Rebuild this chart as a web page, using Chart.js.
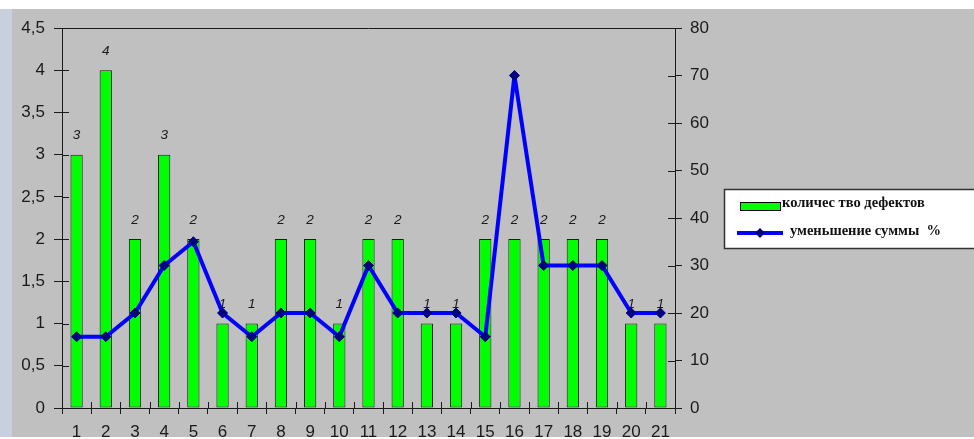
<!DOCTYPE html>
<html>
<head>
<meta charset="utf-8">
<script src="https://cdn.jsdelivr.net/npm/chart.js@4.4.1/dist/chart.umd.min.js"></script>
<style>
html,body{margin:0;padding:0;background:#fff;}
#wrap{position:relative;width:974px;height:439px;}
</style>
</head>
<body>
<div id="wrap"><canvas id="c" width="974" height="439"></canvas></div>
<script>
const categories = ['1','2','3','4','5','6','7','8','9','10','11','12','13','14','15','16','17','18','19','20','21'];
const defectCounts = [3,4,2,3,2,1,1,2,2,1,2,2,1,1,2,2,2,2,2,1,1];
const sumReductionPct = [15,15,20,30,35,20,15,20,20,15,30,20,20,20,15,70,30,30,30,20,20];
const leftTickLabels = ['0','0,5','1','1,5','2','2,5','3','3,5','4','4,5'];
const rightTickLabels = ['0','10','20','30','40','50','60','70','80'];
const seriesNames = ['количес тво дефектов', 'уменьшение суммы  %'];

const bgPlugin = {
  id: 'bg',
  beforeDraw(chart) {
    const ctx = chart.ctx;
    ctx.save();
    ctx.fillStyle = '#ffffff';
    ctx.fillRect(0, 0, chart.width, chart.height);
    ctx.fillStyle = '#c0c0c0';
    ctx.fillRect(0, 9, chart.width, chart.height - 11);
    ctx.fillStyle = '#c9d0dd';
    ctx.fillRect(0, 9, 12, chart.height - 11);
    ctx.restore();
  }
};

const axisPlugin = {
  id: 'axisDecor',
  afterDatasetsDraw(chart) {
    const ctx = chart.ctx;
    const a = chart.chartArea;
    ctx.save();
    ctx.strokeStyle = '#1a1a1a';
    ctx.lineWidth = 1;
    ctx.beginPath();
    ctx.moveTo(a.left, a.top + 0.5);
    ctx.lineTo(a.right, a.top + 0.5);
    ctx.stroke();
    const y = chart.scales.y, y1 = chart.scales.y1, x = chart.scales.x;
    ctx.beginPath();
    y.ticks.forEach((t, i) => {
      const py = Math.round(y.getPixelForTick(i)) + 0.5;
      ctx.moveTo(a.left, py); ctx.lineTo(a.left + 7, py);
    });
    y1.ticks.forEach((t, i) => {
      const py = Math.round(y1.getPixelForTick(i)) + 0.5;
      ctx.moveTo(a.right - 7, py); ctx.lineTo(a.right, py);
    });
    const n = categories.length;
    for (let i = 1; i < n; i++) {
      const px = Math.round((x.getPixelForValue(i - 1) + x.getPixelForValue(i)) / 2) + 0.5;
      ctx.moveTo(px, a.bottom - 6); ctx.lineTo(px, a.bottom);
    }
    ctx.stroke();
    ctx.restore();
  },
  afterDraw(chart) {
    const ctx = chart.ctx;
    const meta = chart.getDatasetMeta(1);
    ctx.save();
    ctx.font = 'italic 13.5px "Liberation Sans", Arial, sans-serif';
    ctx.fillStyle = '#1a1a1a';
    ctx.textAlign = 'center';
    ctx.textBaseline = 'middle';
    meta.data.forEach((bar, i) => {
      ctx.fillText(String(defectCounts[i]), bar.x, bar.y - 19);
    });
    ctx.restore();

    ctx.save();
    const lx = 724, ly = 189, lw = 260, lh = 59;
    ctx.fillStyle = '#ffffff';
    ctx.fillRect(lx, ly, lw, lh);
    ctx.strokeStyle = '#333';
    ctx.lineWidth = 1.5;
    ctx.strokeRect(lx + 0.5, ly + 0.5, lw, lh);
    ctx.fillStyle = '#00ff00';
    ctx.fillRect(740, 202, 40, 8);
    ctx.strokeStyle = '#000';
    ctx.lineWidth = 1;
    ctx.strokeRect(740.5, 202.5, 40, 8);
    ctx.font = 'bold 14.5px "Liberation Serif", "Times New Roman", serif';
    ctx.fillStyle = '#111';
    ctx.textBaseline = 'middle';
    ctx.textAlign = 'left';
    ctx.fillText(seriesNames[0], 782, 203);
    ctx.strokeStyle = '#0000ff';
    ctx.lineWidth = 4;
    ctx.beginPath();
    ctx.moveTo(737, 233); ctx.lineTo(783, 233);
    ctx.stroke();
    ctx.fillStyle = '#000080';
    ctx.beginPath();
    ctx.moveTo(760, 228); ctx.lineTo(765, 233); ctx.lineTo(760, 238); ctx.lineTo(755, 233);
    ctx.closePath(); ctx.fill();
    ctx.fillStyle = '#111';
    ctx.fillText(seriesNames[1], 790, 231);
    ctx.restore();
  }
};

new Chart(document.getElementById('c'), {
  type: 'bar',
  data: {
    labels: categories,
    datasets: [
      {
        type: 'line',
        label: seriesNames[1],
        data: sumReductionPct,
        yAxisID: 'y1',
        borderColor: '#0000ff',
        borderWidth: 4,
        borderJoinStyle: 'round',
        pointStyle: 'rectRot',
        pointRadius: 5,
        pointBackgroundColor: '#000080',
        pointBorderColor: '#000080',
        pointBorderWidth: 1,
        tension: 0,
        order: 0
      },
      {
        type: 'bar',
        label: seriesNames[0],
        data: defectCounts,
        yAxisID: 'y',
        backgroundColor: '#00ff00',
        borderColor: '#1a1a1a',
        borderWidth: 1,
        borderSkipped: false,
        categoryPercentage: 1,
        barPercentage: 0.42,
        order: 1
      }
    ]
  },
  options: {
    responsive: false,
    animation: false,
    devicePixelRatio: 1,
    layout: { padding: { top: 28, left: 0, right: 0, bottom: 0 } },
    plugins: { legend: { display: false }, tooltip: { enabled: false } },
    scales: {
      x: {
        offset: true,
        grid: { offset: true, drawOnChartArea: false, color: '#1a1a1a', tickLength: 6, tickColor: '#1a1a1a' },
        border: { color: '#1a1a1a', width: 1 },
        ticks: { color: '#1a1a1a', font: { family: '"Liberation Sans", Arial, sans-serif', size: 17 }, padding: 8, maxRotation: 0, autoSkip: false },
        afterFit(s) { s.height = 31; }
      },
      y: {
        position: 'left',
        min: 0, max: 4.5,
        grid: { drawOnChartArea: false, color: '#1a1a1a', tickLength: 8 },
        border: { color: '#1a1a1a', width: 1 },
        ticks: { stepSize: 0.5, color: '#1a1a1a', padding: 9, font: { family: '"Liberation Sans", Arial, sans-serif', size: 17 },
          callback: (v, i) => leftTickLabels[i] },
        afterFit(s) { s.width = 62; }
      },
      y1: {
        position: 'right',
        min: 0, max: 80,
        grid: { drawOnChartArea: false, color: '#1a1a1a', tickLength: 7 },
        border: { color: '#1a1a1a', width: 1 },
        ticks: { stepSize: 10, color: '#1a1a1a', padding: 8, font: { family: '"Liberation Sans", Arial, sans-serif', size: 17 },
          callback: (v, i) => rightTickLabels[i] },
        afterFit(s) { s.width = 299; }
      }
    }
  },
  plugins: [bgPlugin, axisPlugin]
});
</script>
</body>
</html>
